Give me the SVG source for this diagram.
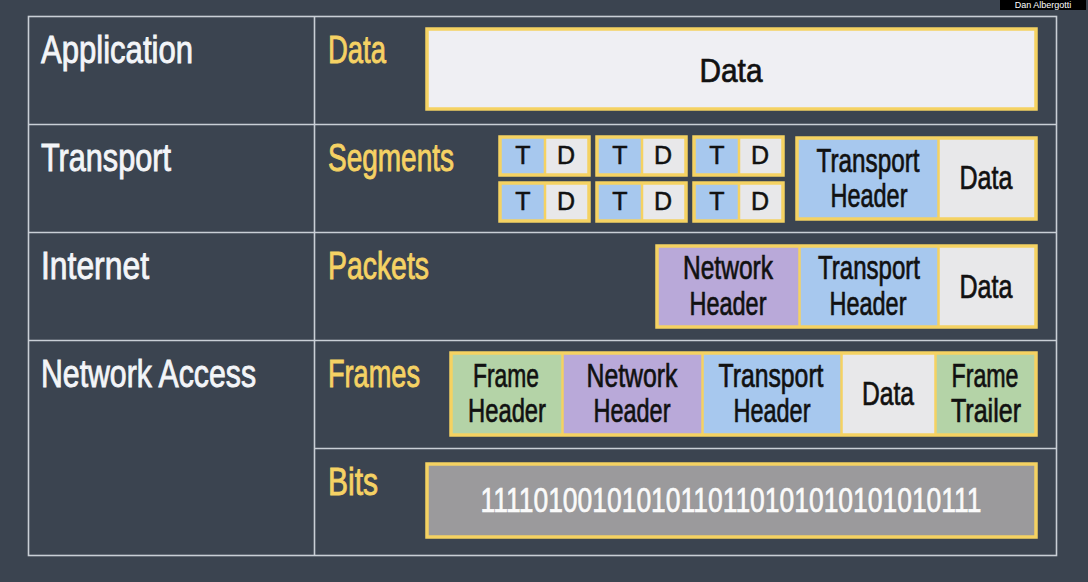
<svg xmlns="http://www.w3.org/2000/svg" width="1088" height="582" viewBox="0 0 1088 582">
<defs>
<style>
.lbl{font-family:"Liberation Sans","Noto Sans",sans-serif;font-size:39px;fill:#f3f5f8;stroke:#f3f5f8;stroke-width:0.9}
.sub{font-family:"Liberation Sans","Noto Sans",sans-serif;font-size:39px;fill:#f5d264;stroke:#f5d264;stroke-width:0.9}
.bx{font-family:"Liberation Sans","Noto Sans",sans-serif;font-size:33px;fill:#111;stroke:#111;stroke-width:0.7;text-anchor:middle}
.sm{font-family:"Liberation Sans","Noto Sans",sans-serif;font-size:25px;fill:#111;stroke:#111;stroke-width:0.5;text-anchor:middle}
.grid{stroke:#c9cfd6;stroke-width:1.6;fill:none}
.frame{fill:none;stroke:#f5d262;stroke-width:3.5}
.div{stroke:#f5d262;stroke-width:2.5}
.blue{fill:#a7c8ee}
.gray{fill:#e8e8ea}
.purple{fill:#b9a9d9}
.green{fill:#b4d3a7}
</style>
</defs>
<rect width="1088" height="582" fill="#3b4450"/>
<g id="watermark">
<rect x="1000" y="0" width="86" height="10" fill="#000"/>
<text x="1043" y="8" font-family="Liberation Sans, sans-serif" font-size="9" fill="#fff" text-anchor="middle">Dan Albergotti</text>
</g>
<g id="table">
<rect class="grid" x="28.5" y="16.5" width="1028" height="539"/>
<line class="grid" x1="314.5" y1="16" x2="314.5" y2="556"/>
<line class="grid" x1="28" y1="124.5" x2="1057" y2="124.5"/>
<line class="grid" x1="28" y1="232.5" x2="1057" y2="232.5"/>
<line class="grid" x1="28" y1="340.5" x2="1057" y2="340.5"/>
<line class="grid" x1="314" y1="448.5" x2="1057" y2="448.5"/>
</g>
<g id="layer-labels">
<text class="lbl" x="41" y="63" textLength="152" lengthAdjust="spacingAndGlyphs">Application</text>
<text class="lbl" x="41" y="171" textLength="130" lengthAdjust="spacingAndGlyphs">Transport</text>
<text class="lbl" x="41" y="279" textLength="108" lengthAdjust="spacingAndGlyphs">Internet</text>
<text class="lbl" x="41" y="387" textLength="215" lengthAdjust="spacingAndGlyphs">Network Access</text>
</g>
<g id="pdu-labels">
<text class="sub" x="328" y="63" textLength="58" lengthAdjust="spacingAndGlyphs">Data</text>
<text class="sub" x="328" y="171" textLength="126" lengthAdjust="spacingAndGlyphs">Segments</text>
<text class="sub" x="328" y="279" textLength="101" lengthAdjust="spacingAndGlyphs">Packets</text>
<text class="sub" x="328" y="387" textLength="92" lengthAdjust="spacingAndGlyphs">Frames</text>
<text class="sub" x="328" y="495" textLength="50" lengthAdjust="spacingAndGlyphs">Bits</text>
</g>
<g id="app-data">
<rect x="427" y="29" width="609" height="80" fill="#efeff3"/>
<rect class="frame" x="427" y="29" width="609" height="80"/>
<text class="bx" x="731" y="82" font-size="40" textLength="63" lengthAdjust="spacingAndGlyphs">Data</text>
</g>
<g id="segments-small">
<g id="seg1">
<rect class="blue" x="500" y="137" width="45" height="38"/><rect class="gray" x="545" y="137" width="44" height="38"/>
<line class="div" x1="545" y1="137" x2="545" y2="175"/><rect class="frame" x="500" y="137" width="89" height="38"/>
<text class="sm" x="523" y="164">T</text><text class="sm" x="566" y="164">D</text>
</g>
<g id="seg2">
<rect class="blue" x="597" y="137" width="45" height="38"/><rect class="gray" x="642" y="137" width="44" height="38"/>
<line class="div" x1="642" y1="137" x2="642" y2="175"/><rect class="frame" x="597" y="137" width="89" height="38"/>
<text class="sm" x="620" y="164">T</text><text class="sm" x="663" y="164">D</text>
</g>
<g id="seg3">
<rect class="blue" x="694" y="137" width="45" height="38"/><rect class="gray" x="739" y="137" width="44" height="38"/>
<line class="div" x1="739" y1="137" x2="739" y2="175"/><rect class="frame" x="694" y="137" width="89" height="38"/>
<text class="sm" x="717" y="164">T</text><text class="sm" x="760" y="164">D</text>
</g>
<g id="seg4">
<rect class="blue" x="500" y="183" width="45" height="38"/><rect class="gray" x="545" y="183" width="44" height="38"/>
<line class="div" x1="545" y1="183" x2="545" y2="221"/><rect class="frame" x="500" y="183" width="89" height="38"/>
<text class="sm" x="523" y="210">T</text><text class="sm" x="566" y="210">D</text>
</g>
<g id="seg5">
<rect class="blue" x="597" y="183" width="45" height="38"/><rect class="gray" x="642" y="183" width="44" height="38"/>
<line class="div" x1="642" y1="183" x2="642" y2="221"/><rect class="frame" x="597" y="183" width="89" height="38"/>
<text class="sm" x="620" y="210">T</text><text class="sm" x="663" y="210">D</text>
</g>
<g id="seg6">
<rect class="blue" x="694" y="183" width="45" height="38"/><rect class="gray" x="739" y="183" width="44" height="38"/>
<line class="div" x1="739" y1="183" x2="739" y2="221"/><rect class="frame" x="694" y="183" width="89" height="38"/>
<text class="sm" x="717" y="210">T</text><text class="sm" x="760" y="210">D</text>
</g>
</g>
<g id="segment">
<rect class="blue" x="797" y="138" width="141" height="81"/><rect class="gray" x="938" y="138" width="98" height="81"/>
<line class="div" x1="938.5" y1="138" x2="938.5" y2="219"/>
<rect class="frame" x="797" y="138" width="239" height="81"/>
<text class="bx" x="868" y="172" textLength="103" lengthAdjust="spacingAndGlyphs">Transport</text>
<text class="bx" x="869" y="207" textLength="77" lengthAdjust="spacingAndGlyphs">Header</text>
<text class="bx" x="986" y="189" textLength="53" lengthAdjust="spacingAndGlyphs">Data</text>
</g>
<g id="packet">
<rect class="purple" x="657" y="246" width="142" height="81"/><rect class="blue" x="799" y="246" width="139" height="81"/><rect class="gray" x="938" y="246" width="98" height="81"/>
<line class="div" x1="799.5" y1="246" x2="799.5" y2="327"/><line class="div" x1="938.5" y1="246" x2="938.5" y2="327"/>
<rect class="frame" x="657" y="246" width="379" height="81"/>
<text class="bx" x="728" y="279" textLength="90" lengthAdjust="spacingAndGlyphs">Network</text>
<text class="bx" x="728" y="315" textLength="77" lengthAdjust="spacingAndGlyphs">Header</text>
<text class="bx" x="869" y="279" textLength="102" lengthAdjust="spacingAndGlyphs">Transport</text>
<text class="bx" x="868" y="315" textLength="77" lengthAdjust="spacingAndGlyphs">Header</text>
<text class="bx" x="986" y="298" textLength="53" lengthAdjust="spacingAndGlyphs">Data</text>
</g>
<g id="frame">
<rect class="green" x="451" y="353" width="111" height="82"/><rect class="purple" x="562" y="353" width="140" height="82"/><rect class="blue" x="702" y="353" width="139" height="82"/><rect class="gray" x="841" y="353" width="94" height="82"/><rect class="green" x="935" y="353" width="101" height="82"/>
<line class="div" x1="562.5" y1="353" x2="562.5" y2="435"/><line class="div" x1="702.5" y1="353" x2="702.5" y2="435"/><line class="div" x1="841.5" y1="353" x2="841.5" y2="435"/><line class="div" x1="935.5" y1="353" x2="935.5" y2="435"/>
<rect class="frame" x="451" y="353" width="585" height="82"/>
<text class="bx" x="506" y="387" textLength="66" lengthAdjust="spacingAndGlyphs">Frame</text>
<text class="bx" x="507" y="422" textLength="78" lengthAdjust="spacingAndGlyphs">Header</text>
<text class="bx" x="632" y="387" textLength="91" lengthAdjust="spacingAndGlyphs">Network</text>
<text class="bx" x="632" y="422" textLength="77" lengthAdjust="spacingAndGlyphs">Header</text>
<text class="bx" x="771" y="387" textLength="105" lengthAdjust="spacingAndGlyphs">Transport</text>
<text class="bx" x="772" y="422" textLength="77" lengthAdjust="spacingAndGlyphs">Header</text>
<text class="bx" x="888" y="405" textLength="52" lengthAdjust="spacingAndGlyphs">Data</text>
<text class="bx" x="985" y="387" textLength="67" lengthAdjust="spacingAndGlyphs">Frame</text>
<text class="bx" x="986" y="422" textLength="70" lengthAdjust="spacingAndGlyphs">Trailer</text>
</g>
<g id="bits">
<rect x="427" y="464" width="609" height="73" fill="#9b9a9c"/>
<rect class="frame" x="427" y="464" width="609" height="73"/>
<text transform="translate(731,512) scale(1,1.35)" x="0" y="0" font-family="Liberation Sans, sans-serif" font-size="26" fill="#fafafa" stroke="#fafafa" stroke-width="0.5" text-anchor="middle" textLength="501" lengthAdjust="spacingAndGlyphs">11110100101010110110101010101010111</text>
</g>
</svg>
